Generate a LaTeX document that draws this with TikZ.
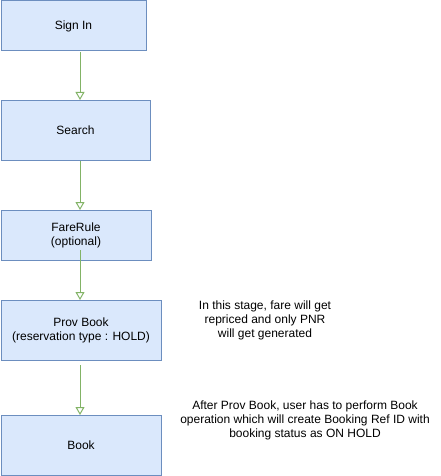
\documentclass[tikz,border=0pt]{standalone}
\usepackage{fontspec}
\setmainfont{Liberation Sans}
\usetikzlibrary{arrows.meta}
\definecolor{boxfill}{HTML}{DAE8FC}
\definecolor{boxdraw}{HTML}{6C8EBF}
\definecolor{arrowc}{HTML}{82B366}
\begin{document}
\begin{tikzpicture}[x=1pt,y=-1pt,
  stepbox/.style={draw=boxdraw,fill=boxfill,line width=1pt,anchor=north west,inner sep=0pt,align=center,font=\fontsize{12}{14}\selectfont},
  flow/.style={draw=arrowc,line width=1pt,-{Triangle[open,length=8pt,width=9pt]}},
  note/.style={align=center,font=\fontsize{12}{14}\selectfont}]
\useasboundingbox (0,0) rectangle (441,476);
\node[stepbox,minimum width=145pt,minimum height=50pt] (signin) at (0.5,0.5) {Sign In};
\node[stepbox,minimum width=149pt,minimum height=60pt] (search) at (0.5,100) {Search};
\node[stepbox,minimum width=150pt,minimum height=50pt] (fare) at (0.5,210) {FareRule\\(optional)};
\node[stepbox,minimum width=160pt,minimum height=60pt] (prov) at (0.5,300) {Prov Book\\(reservation type : HOLD)};
\node[stepbox,minimum width=160pt,minimum height=60pt] (book) at (0.5,415) {Book};
\coordinate (farestart) at (80,250);
\coordinate (provstart) at (80,365);
\draw[flow] (80,52) coordinate (s1) -- (search.north -| s1);
\draw[flow] (search.south -| s1) -- (fare.north -| s1);
\draw[flow] (farestart) -- (prov.north -| farestart);
\draw[flow] (provstart) -- (book.north -| provstart);
\node[note] (n1) at (265,320) {In this stage, fare will get\\repriced and only PNR\\will get generated};
\node[note] (n2) at (305,420) {After Prov Book, user has to perform Book\\operation which will create Booking Ref ID with\\booking status as ON HOLD};
\end{tikzpicture}
\end{document}
